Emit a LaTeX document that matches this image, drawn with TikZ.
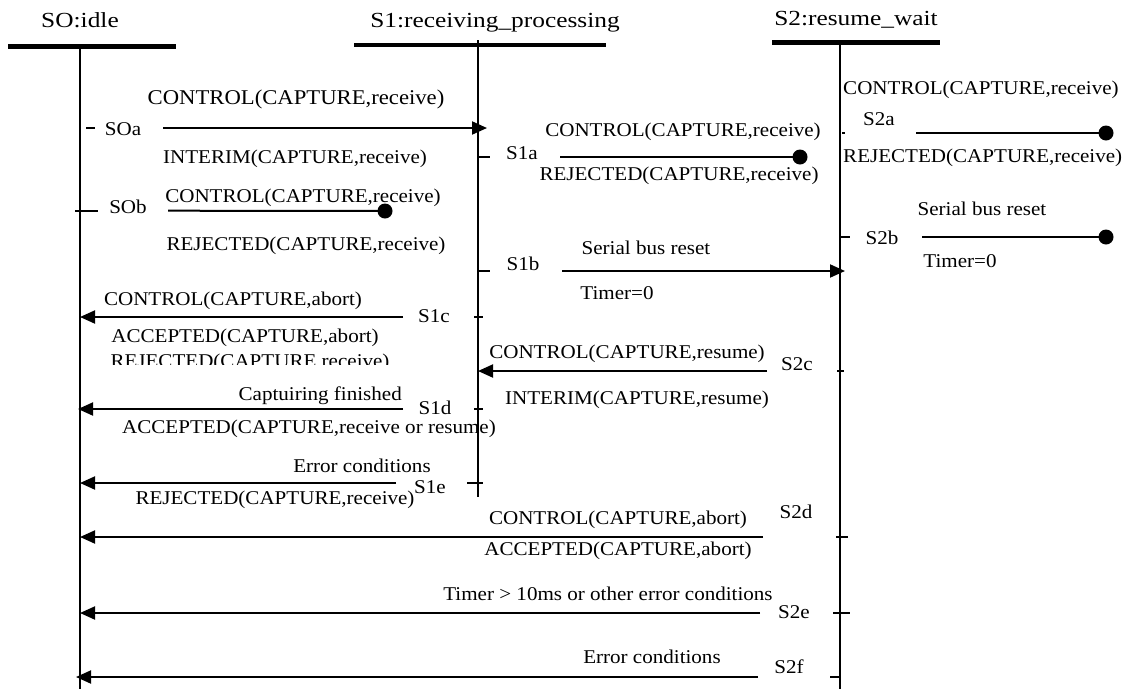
\documentclass[tikz,border=0pt]{standalone}
\usepackage{fontspec}
\setmainfont{Liberation Serif}
\newfontfamily\titlefont[FakeStretch=1.18]{Liberation Serif}
\newfontfamily\labelfont[FakeStretch=1.08]{Liberation Serif}
\usetikzlibrary{arrows.meta}

\begin{document}
\begin{tikzpicture}[x=1pt,y=-1pt,
  lifeline/.style={line width=2pt},
  headbar/.style={line width=4.5pt},
  msg/.style={line width=2pt,-{Triangle[length=15pt,width=13pt]}},
  stub/.style={line width=2pt},
  tick/.style={line width=1.8pt},
  enddot/.style={circle,fill,inner sep=0pt,minimum size=15pt},
  title/.style={anchor=base,inner sep=0pt,font=\titlefont\fontsize{21.5}{24}\selectfont},
  lbl/.style={anchor=base,inner sep=0pt,font=\labelfont\fontsize{19.5}{22}\selectfont},
  biglbl/.style={anchor=base,inner sep=0pt,font=\labelfont\fontsize{21}{24}\selectfont},
  ]
\useasboundingbox (0,0) rectangle (1128,689);

% state headers
\node[title] (t0) at (80,27) {SO:idle};
\node[title] (t1) at (495,27) {S1:receiving\_processing};
\node[title] (t2) at (856,25) {S2:resume\_wait};

\coordinate (b0l) at (8,46.5);   \coordinate (b0r) at (176,46.5);
\coordinate (b1l) at (354,45);   \coordinate (b1r) at (606,45);
\coordinate (b2l) at (772,42.5); \coordinate (b2r) at (940,42.5);
\draw[headbar] (b0l) -- (b0r);
\draw[headbar] (b1l) -- (b1r);
\draw[headbar] (b2l) -- (b2r);

% lifelines
\coordinate (l0top) at (80,44);  \coordinate (l0bot) at (80,689);
\coordinate (l1top) at (478,40); \coordinate (l1bot) at (478,497);
\coordinate (l2top) at (840,42); \coordinate (l2bot) at (840,689);
\draw[lifeline] (l0top) -- (l0bot);
\draw[lifeline] (l1top) -- (l1bot);
\draw[lifeline] (l2top) -- (l2bot);

% transition marks on the lifelines
\draw[tick] (86,128) -- (95,128);
\draw[tick] (75,210.7) -- (98,210.7);
\draw[tick] (478,157) -- (490,157);
\draw[tick] (478,271) -- (490,271);
\draw[tick] (474,317) -- (483,317);
\draw[tick] (474,409) -- (483,409);
\draw[tick] (467,483) -- (483,483);
\draw[tick] (842,133) -- (845,133);
\draw[tick] (840,237) -- (850,237);
\draw[tick] (837,371) -- (844,371);
\draw[tick] (836,537) -- (848,537);
\draw[tick] (833,613) -- (850,613);
\draw[tick] (830,677) -- (840,677);

% ---- SOa
\node[biglbl] (c0a) at (296,104) {CONTROL(CAPTURE,receive)};
\node[lbl] (s0a) at (123,135) {SOa};
\node[lbl] (r0a) at (295,163) {INTERIM(CAPTURE,receive)};
\coordinate (m0a-s) at (163,128); \coordinate (m0a-e) at (487,128);
\draw[msg] (m0a-s) -- (m0a-e);

% ---- SOb
\node[lbl] (c0b) at (303,202) {CONTROL(CAPTURE,receive)};
\node[lbl] (s0b) at (128,213) {SOb};
\node[lbl] (r0b) at (306,250) {REJECTED(CAPTURE,receive)};
\coordinate (m0b-s) at (168,210.7);
\node[enddot] (m0b-e) at (385,211) {};
\draw[stub] (m0b-s) -- (m0b-e.center);

% ---- S1a
\node[lbl] (c1a) at (683,136) {CONTROL(CAPTURE,receive)};
\node[lbl] (s1a) at (522,159) {S1a};
\node[lbl] (r1a) at (679,180) {REJECTED(CAPTURE,receive)};
\coordinate (m1a-s) at (560,157);
\node[enddot] (m1a-e) at (800,157) {};
\draw[stub] (m1a-s) -- (m1a-e.center);

% ---- S2a
\node[lbl,anchor=base west] (c2a) at (843,94) {CONTROL(CAPTURE,receive)};
\node[lbl] (s2a) at (879,125) {S2a};
\node[lbl,anchor=base west] (r2a) at (843,162) {REJECTED(CAPTURE,receive)};
\coordinate (m2a-s) at (916,133);
\node[enddot] (m2a-e) at (1106,133) {};
\draw[stub] (m2a-s) -- (m2a-e.center);

% ---- S2b
\node[lbl] (c2b) at (982,215) {Serial bus reset};
\node[lbl] (s2b) at (882,244) {S2b};
\node[lbl] (r2b) at (960,267) {Timer=0};
\coordinate (m2b-s) at (922,237);
\node[enddot] (m2b-e) at (1106,237) {};
\draw[stub] (m2b-s) -- (m2b-e.center);

% ---- S1b
\node[lbl] (c1b) at (646,254) {Serial bus reset};
\node[lbl] (s1b) at (523,270) {S1b};
\node[lbl] (r1b) at (617,299) {Timer=0};
\coordinate (m1b-s) at (562,271); \coordinate (m1b-e) at (845,271);
\draw[msg] (m1b-s) -- (m1b-e);

% ---- S1c
\node[lbl] (c1c) at (233,305) {CONTROL(CAPTURE,abort)};
\node[lbl] (s1c) at (434,322) {S1c};
\node[lbl] (r1c) at (245,342) {ACCEPTED(CAPTURE,abort)};
\begin{scope}
  \clip (90,345) rectangle (420,364);
  \node[lbl] (r1c2) at (250,367) {REJECTED(CAPTURE,receive)};
\end{scope}
\coordinate (m1c-s) at (403,317); \coordinate (m1c-e) at (80,317);
\draw[msg] (m1c-s) -- (m1c-e);

% ---- S2c
\node[lbl] (c2c) at (627,358) {CONTROL(CAPTURE,resume)};
\node[lbl] (s2c) at (797,370) {S2c};
\node[lbl] (r2c) at (637,404) {INTERIM(CAPTURE,resume)};
\coordinate (m2c-s) at (767,371); \coordinate (m2c-e) at (478,371);
\draw[msg] (m2c-s) -- (m2c-e);

% ---- S1d
\node[lbl,anchor=base east] (c1d) at (402,400) {Captuiring finished};
\node[lbl] (s1d) at (435,414) {S1d};
\node[lbl] (r1d) at (309,433) {ACCEPTED(CAPTURE,receive or resume)};
\coordinate (m1d-s) at (403,409); \coordinate (m1d-e) at (78,409);
\draw[msg] (m1d-s) -- (m1d-e);

% ---- S1e
\node[lbl] (c1e) at (362,472) {Error conditions};
\node[lbl] (s1e) at (430,493) {S1e};
\node[lbl] (r1e) at (275,504) {REJECTED(CAPTURE,receive)};
\coordinate (m1e-s) at (396,483); \coordinate (m1e-e) at (80,483);
\draw[msg] (m1e-s) -- (m1e-e);

% ---- S2d
\node[lbl] (c2d) at (618,524) {CONTROL(CAPTURE,abort)};
\node[lbl] (s2d) at (796,518) {S2d};
\node[lbl] (r2d) at (618,555) {ACCEPTED(CAPTURE,abort)};
\coordinate (m2d-s) at (763,537); \coordinate (m2d-e) at (80,537);
\draw[msg] (m2d-s) -- (m2d-e);

% ---- S2e
\node[lbl] (c2e) at (608,600) {Timer > 10ms or other error conditions};
\node[lbl] (s2e) at (794,618) {S2e};
\coordinate (m2e-s) at (760,613); \coordinate (m2e-e) at (80,613);
\draw[msg] (m2e-s) -- (m2e-e);

% ---- S2f
\node[lbl] (c2f) at (652,663) {Error conditions};
\node[lbl] (s2f) at (789,673) {S2f};
\coordinate (m2f-s) at (758,677); \coordinate (m2f-e) at (76,677);
\draw[msg] (m2f-s) -- (m2f-e);

\end{tikzpicture}
\end{document}
